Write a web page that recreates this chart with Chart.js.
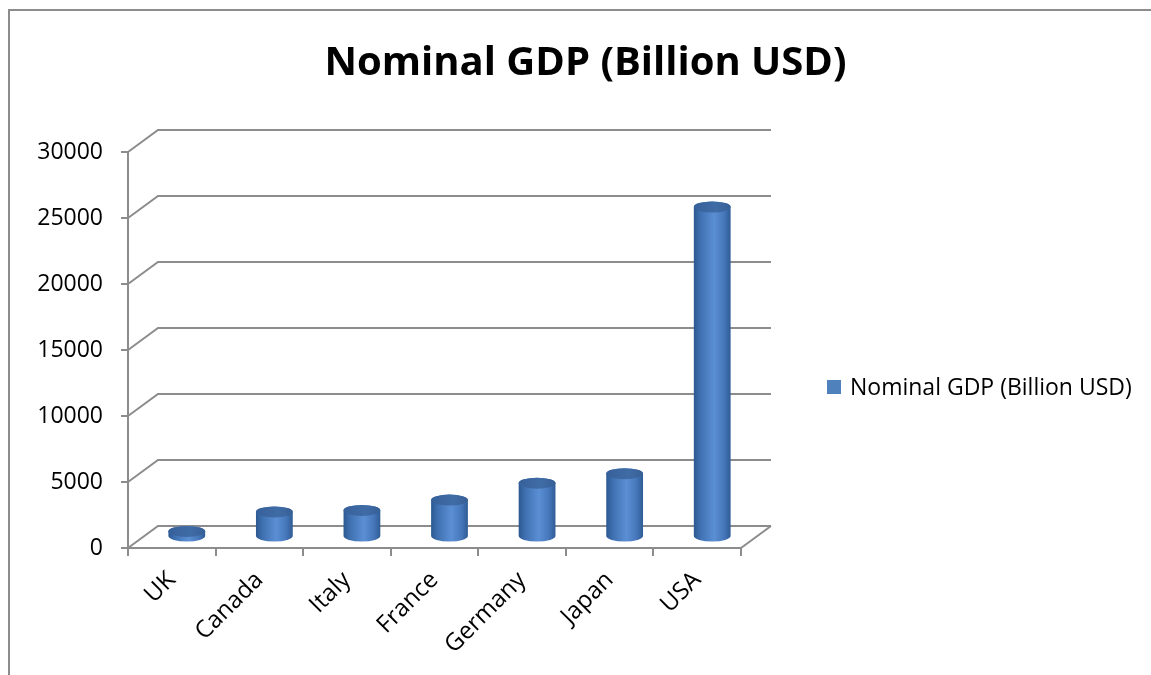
<!DOCTYPE html>
<html>
<head>
<meta charset="utf-8">
<script src="https://cdn.jsdelivr.net/npm/chart.js@4/dist/chart.umd.min.js"></script>
<style>
    html, body { margin: 0; padding: 0; background: #fff; overflow: hidden; }
    #frame { position: absolute; left: 8px; top: 9px; width: 2000px; height: 2000px; border: 2px solid #8c8c8c; }
    #wrap { position: absolute; left: 0; top: 0; width: 1151px; height: 675px; }
</style>
</head>
<body>
<div id="frame"></div>
<div id="wrap"><canvas id="gdp-chart" width="1151" height="675"></canvas></div>
<script>
// Data
const countries = ['UK', 'Canada', 'Italy', 'France', 'Germany', 'Japan', 'USA'];
const nominalGdp = [420, 1900, 2010, 2800, 4080, 4800, 25000];
const yAxisMin = 0;
const yAxisMax = 30000;
const yAxisStep = 5000;
const seriesLabel = 'Nominal GDP (Billion USD)';
const chartTitle = 'Nominal GDP (Billion USD)';

const GRID = '#8c8c8c';
const DX = 30, DY = -22;   // depth of the fake 3d box

// draws the back wall, side wall, floor, cylinders and legend
const depthPlugin = {
    id: 'depth3d',
    beforeDatasetsDraw(chart) {
        const { ctx, chartArea: a, scales: { y } } = chart;
        ctx.save();
        ctx.strokeStyle = GRID;
        ctx.lineWidth = 2;
        y.ticks.forEach(t => {
            const py = y.getPixelForValue(t.value);
            ctx.beginPath();
            ctx.moveTo(a.left, py);
            ctx.lineTo(a.left + DX, py + DY);
            ctx.lineTo(a.right + DX, py + DY);
            ctx.stroke();
        });
        ctx.beginPath();
        ctx.moveTo(a.right, a.bottom);
        ctx.lineTo(a.right + DX, a.bottom + DY);
        ctx.stroke();
        ctx.restore();
    },
    afterDatasetsDraw(chart) {
        const ctx = chart.ctx;
        const meta = chart.getDatasetMeta(0);
        ctx.save();
        meta.data.forEach(bar => {
            const rx = bar.width / 2, ry = 5.5;
            const cx = bar.x + DX / 2;
            const top = bar.y + DY / 2;
            const base = bar.base + DY / 2;
            const left = cx - rx, right = cx + rx;

            const g = ctx.createLinearGradient(left, 0, right, 0);
            g.addColorStop(0, '#2c5890');
            g.addColorStop(0.18, '#3f71b1');
            g.addColorStop(0.55, '#5b8fd4');
            g.addColorStop(0.82, '#4677bb');
            g.addColorStop(1, '#2f5c95');
            ctx.fillStyle = g;
            ctx.beginPath();
            ctx.moveTo(left, top);
            ctx.lineTo(left, base);
            ctx.ellipse(cx, base, rx, ry, 0, Math.PI, 0, true);
            ctx.lineTo(right, top);
            ctx.ellipse(cx, top, rx, ry, 0, 0, Math.PI, true);
            ctx.closePath();
            ctx.fill();

            const tg = ctx.createLinearGradient(left, 0, right, 0);
            tg.addColorStop(0, '#36609a');
            tg.addColorStop(0.6, '#406ca6');
            tg.addColorStop(1, '#365f95');
            ctx.fillStyle = tg;
            ctx.beginPath();
            ctx.ellipse(cx, top, rx, ry, 0, 0, Math.PI * 2);
            ctx.fill();
        });
        ctx.restore();
    },
    afterDraw(chart) {
        const { ctx, chartArea: a } = chart;
        const ds = chart.data.datasets[0];
        const x = a.right + 86;
        const midY = (a.top + a.bottom) / 2 + 37;
        ctx.save();
        ctx.fillStyle = '#4f81bd';
        ctx.fillRect(x, midY - 7, 14, 14);
        ctx.fillStyle = '#000';
        ctx.font = '23px "Open Sans"';
        ctx.textBaseline = 'middle';
        ctx.fillText(ds.label, x + 23, midY + 1);
        ctx.restore();
    }
};

const ctx = document.getElementById('gdp-chart').getContext('2d');
const gdpChart = new Chart(ctx, {
    type: 'bar',
    data: {
        labels: countries,
        datasets: [{
            label: seriesLabel,
            data: nominalGdp,
            backgroundColor: 'rgba(0,0,0,0)',
            borderWidth: 0,
            barPercentage: 0.42,
            categoryPercentage: 1
        }]
    },
    options: {
        responsive: false,
        animation: false,
        events: [],
        layout: { padding: { left: 20, right: 0, top: 0, bottom: 0 } },
        plugins: {
            legend: { display: false },
            tooltip: { enabled: false },
            title: {
                display: true,
                text: chartTitle,
                color: '#000',
                font: { family: 'Open Sans', size: 40, weight: 'bold' },
                padding: { top: 40, bottom: 64 }
            }
        },
        scales: {
            x: {
                afterFit: scale => { scale.height = 127; },
                border: { color: GRID, width: 2 },
                grid: { drawOnChartArea: false, color: GRID, lineWidth: 2, tickLength: 8, offset: true },
                ticks: {
                    color: '#000',
                    font: { family: 'Open Sans', size: 24 },
                    minRotation: 45,
                    maxRotation: 45,
                    padding: 10
                }
            },
            y: {
                min: yAxisMin,
                max: yAxisMax,
                afterFit: scale => { scale.width = 108; },
                border: { color: GRID, width: 2 },
                grid: { drawOnChartArea: false, color: GRID, lineWidth: 2, tickLength: 7 },
                ticks: {
                    stepSize: yAxisStep,
                    color: '#000',
                    font: { family: 'Open Sans', size: 23 },
                    padding: 18,
                    callback: v => String(v)
                }
            },
            // empty right-hand space where the legend sits
            yRight: {
                position: 'right',
                afterFit: scale => { scale.width = 410; },
                border: { display: false },
                grid: { display: false },
                ticks: { display: false }
            }
        }
    },
    plugins: [depthPlugin]
});
</script>
</body>
</html>
